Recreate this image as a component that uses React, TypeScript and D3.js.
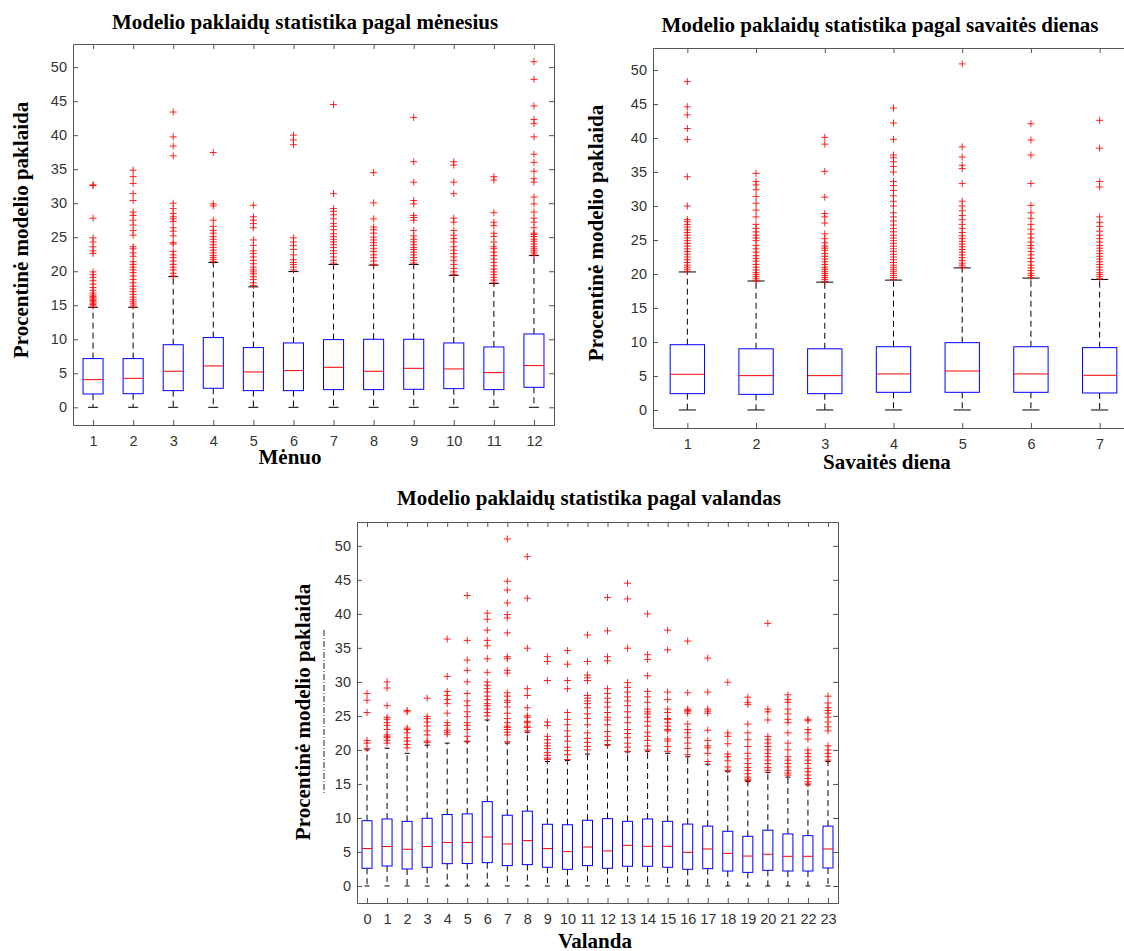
import React, { useEffect, useRef } from 'react';
import * as d3 from 'd3';

const yTicks = [0, 5, 10, 15, 20, 25, 30, 35, 40, 45, 50];

// --- month panel
const months = [1, 2, 3, 4, 5, 6, 7, 8, 9, 10, 11, 12];
const monthLow = [0, 0, 0, 0, 0, 0, 0, 0, 0, 0, 0, 0];
const monthQ1 = [1.96, 2.0, 2.45, 2.8, 2.45, 2.45, 2.6, 2.6, 2.65, 2.74, 2.6, 2.94];
const monthMedian = [4.07, 4.26, 5.3, 6.08, 5.2, 5.39, 5.88, 5.3, 5.73, 5.64, 5.1, 6.13];
const monthQ3 = [7.16, 7.16, 9.2, 10.25, 8.78, 9.46, 9.95, 10.0, 10.0, 9.46, 8.87, 10.78];
const monthHigh = [14.7, 14.7, 19.2, 21.3, 17.7, 19.95, 21.0, 20.9, 21.0, 19.4, 18.2, 22.3];
const monthOutliers = [
  [14.9, 15.1, 15.3, 15.5, 15.7, 15.9, 16.1, 16.3, 16.5, 16.8, 17.2, 17.6, 18.1, 18.6, 19.1, 19.5, 19.9, 22.6, 23.0, 23.6, 24.3, 24.9, 27.8, 32.6, 32.7],
  [14.9, 15.2, 15.5, 15.8, 16.2, 16.6, 17.0, 17.4, 17.8, 18.3, 18.8, 19.3, 19.8, 20.2, 20.6, 21.0, 21.4, 22.2, 22.7, 23.3, 23.6, 25.3, 26.0, 26.8, 27.5, 28.2, 28.7, 30.4, 31.4, 32.9, 33.9, 34.85],
  [19.3, 19.7, 20.2, 20.6, 21.0, 21.5, 22.0, 22.4, 22.9, 24.0, 24.2, 25.2, 25.9, 26.4, 27.3, 27.7, 28.0, 28.5, 29.2, 30.0, 36.96, 38.4, 39.75, 43.4],
  [21.4, 21.7, 22.0, 22.3, 22.7, 23.1, 23.5, 23.9, 24.3, 24.7, 25.1, 25.6, 26.0, 26.6, 27.5, 29.6, 29.9, 37.45],
  [17.9, 18.3, 18.8, 19.2, 19.6, 19.9, 20.2, 20.6, 21.1, 21.6, 22.1, 22.6, 23.0, 23.8, 24.6, 26.4, 27.0, 27.5, 28.0, 29.7],
  [20.2, 20.6, 21.0, 21.3, 21.7, 22.4, 23.2, 23.8, 24.3, 24.9, 38.6, 39.3, 40.0],
  [21.2, 21.6, 22.1, 22.6, 23.0, 23.5, 23.9, 24.3, 24.7, 25.1, 25.5, 26.1, 26.6, 27.0, 27.7, 28.3, 28.8, 29.2, 31.4, 44.5],
  [21.0, 21.5, 22.0, 22.4, 22.9, 23.3, 23.8, 24.2, 24.6, 25.0, 25.6, 26.1, 26.5, 27.7, 30.05, 34.5],
  [21.2, 21.6, 22.0, 22.4, 22.8, 23.2, 23.5, 23.9, 24.3, 24.7, 25.2, 26.0, 27.5, 27.9, 28.2, 29.9, 30.4, 33.1, 36.1, 42.6],
  [19.5, 19.9, 20.4, 21.0, 21.6, 22.1, 22.6, 23.1, 23.6, 24.3, 24.8, 25.3, 26.0, 27.2, 27.8, 31.4, 33.1, 35.6, 36.1],
  [18.3, 18.7, 19.1, 19.5, 19.9, 20.3, 20.8, 21.3, 21.8, 22.3, 22.8, 23.3, 23.6, 24.3, 25.1, 25.6, 26.7, 27.2, 28.6, 33.4, 33.9],
  [22.4, 22.7, 23.0, 23.3, 23.6, 24.0, 24.4, 24.7, 25.1, 25.4, 25.6, 26.4, 27.2, 27.8, 28.7, 29.9, 30.9, 33.1, 33.6, 34.7, 36.0, 37.2, 39.75, 41.7, 42.3, 44.3, 48.2, 50.8],
];

// --- weekday panel
const days = [1, 2, 3, 4, 5, 6, 7];
const dayLow = [0, 0, 0, 0, 0, 0, 0];
const dayQ1 = [2.4, 2.3, 2.4, 2.6, 2.6, 2.6, 2.5];
const dayMedian = [5.25, 5.05, 5.05, 5.3, 5.73, 5.3, 5.1];
const dayQ3 = [9.6, 9.0, 9.0, 9.3, 9.9, 9.3, 9.17];
const dayHigh = [20.3, 18.97, 18.8, 19.1, 20.9, 19.4, 19.2];
const dayOutliers = [
  [20.4, 20.7, 21.0, 21.3, 21.7, 22.1, 22.5, 22.9, 23.3, 23.7, 24.1, 24.5, 24.9, 25.3, 25.7, 26.1, 26.5, 26.9, 27.3, 27.7, 28.0, 30.0, 34.3, 39.8, 41.4, 43.4, 44.6, 48.3],
  [19.0, 19.3, 19.6, 19.9, 20.2, 20.6, 21.0, 21.4, 21.9, 22.3, 22.7, 23.2, 23.7, 24.2, 24.9, 25.3, 25.7, 26.2, 26.7, 27.3, 28.4, 29.4, 30.4, 31.4, 32.4, 33.1, 33.6, 34.8],
  [18.9, 19.2, 19.5, 19.8, 20.1, 20.4, 20.7, 21.0, 21.4, 21.8, 22.2, 22.6, 23.0, 23.5, 23.8, 24.1, 24.6, 25.2, 25.9, 27.5, 28.4, 28.9, 31.3, 35.1, 39.1, 40.1],
  [19.2, 19.5, 19.8, 20.1, 20.4, 20.7, 21.0, 21.3, 21.7, 22.1, 22.5, 22.9, 23.3, 23.7, 24.1, 24.5, 24.9, 25.3, 25.7, 26.2, 26.7, 27.2, 27.8, 28.4, 29.0, 30.0, 30.7, 31.5, 32.3, 33.0, 33.6, 35.0, 35.8, 36.5, 37.1, 37.5, 39.8, 42.2, 44.4],
  [21.0, 21.3, 21.6, 22.0, 22.4, 22.8, 23.2, 23.6, 24.0, 24.4, 24.8, 25.2, 25.6, 26.1, 26.7, 27.3, 28.0, 28.6, 29.3, 30.0, 30.7, 33.3, 35.5, 36.0, 37.2, 38.7, 50.9],
  [19.5, 19.8, 20.1, 20.5, 20.9, 21.3, 21.8, 22.3, 22.8, 23.3, 23.8, 24.2, 24.7, 25.3, 25.9, 26.6, 27.3, 28.2, 29.0, 30.1, 33.3, 37.5, 39.7, 42.1],
  [19.3, 19.6, 19.9, 20.2, 20.6, 21.0, 21.4, 21.8, 22.2, 22.6, 23.0, 23.4, 23.8, 24.2, 24.7, 25.2, 25.7, 26.3, 27.0, 27.6, 28.4, 32.8, 33.6, 38.5, 42.6],
];

// --- hour panel
const hours = [0, 1, 2, 3, 4, 5, 6, 7, 8, 9, 10, 11, 12, 13, 14, 15, 16, 17, 18, 19, 20, 21, 22, 23];
const hourLow = [0, 0, 0, 0, 0, 0, 0, 0, 0, 0, 0, 0, 0, 0, 0, 0, 0, 0, 0, 0, 0, 0, 0, 0];
const hourQ1 = [2.6, 2.94, 2.5, 2.75, 3.28, 3.3, 3.43, 3.0, 3.14, 2.75, 2.45, 3.0, 2.6, 2.9, 2.9, 2.75, 2.45, 2.55, 2.2, 2.0, 2.3, 2.2, 2.2, 2.65];
const hourMedian = [5.5, 5.8, 5.4, 5.8, 6.4, 6.4, 7.2, 6.18, 6.67, 5.5, 5.05, 5.73, 5.15, 5.98, 5.83, 5.83, 4.95, 5.44, 4.8, 4.4, 4.66, 4.36, 4.36, 5.44];
const hourQ3 = [9.6, 9.85, 9.5, 9.95, 10.5, 10.6, 12.4, 10.4, 11.0, 9.07, 9.0, 9.66, 9.9, 9.5, 9.85, 9.5, 9.1, 8.8, 8.04, 7.3, 8.2, 7.65, 7.4, 8.8];
const hourHigh = [20.0, 20.25, 19.5, 20.7, 21.0, 21.2, 24.4, 21.0, 22.6, 18.3, 18.45, 19.4, 20.7, 19.7, 19.8, 19.5, 19.0, 17.9, 16.8, 15.35, 16.7, 16.0, 14.85, 18.3];
const hourOutliers = [
  [20.2, 21.0, 21.4, 25.5, 27.3, 28.3],
  [21.0, 21.4, 21.8, 22.0, 22.2, 23.0, 23.6, 24.0, 24.5, 24.8, 26.5, 29.1, 30.0],
  [20.3, 20.8, 21.3, 21.8, 22.5, 23.0, 23.2, 25.6, 25.8],
  [21.1, 21.3, 22.2, 22.8, 23.5, 24.1, 24.6, 24.9, 27.6],
  [22.3, 22.6, 22.9, 23.6, 24.0, 25.4, 26.8, 27.4, 28.0, 28.6, 30.8, 36.3],
  [21.3, 22.0, 23.0, 23.6, 24.0, 24.9, 25.6, 26.5, 27.2, 28.3, 30.0, 31.7, 33.2, 36.1, 42.7],
  [25.0, 25.5, 26.0, 26.5, 26.8, 27.4, 27.9, 28.5, 29.0, 29.5, 30.0, 31.4, 33.4, 35.3, 36.1, 37.6, 39.2, 40.1],
  [21.2, 22.2, 22.6, 23.0, 23.3, 23.5, 24.0, 24.6, 25.4, 26.3, 27.0, 27.3, 27.9, 28.4, 31.3, 31.7, 33.4, 33.7, 37.2, 39.4, 39.9, 41.6, 43.5, 44.8, 51.0],
  [22.8, 23.3, 23.5, 24.0, 24.2, 24.8, 25.0, 26.2, 28.0, 29.0, 34.95, 42.3, 48.4],
  [18.6, 18.8, 19.2, 19.6, 20.2, 20.6, 21.0, 21.5, 22.0, 23.6, 24.1, 30.2, 33.0, 33.7],
  [18.6, 19.3, 19.9, 20.4, 21.3, 22.0, 22.8, 23.7, 24.5, 25.5, 29.0, 30.2, 32.6, 34.6],
  [20.0, 20.5, 21.1, 21.7, 22.5, 23.7, 24.6, 25.3, 26.2, 26.8, 27.2, 27.6, 28.0, 30.2, 30.6, 31.0, 33.0, 36.9],
  [20.8, 21.4, 22.0, 22.7, 23.7, 24.4, 24.8, 25.5, 26.3, 27.0, 27.6, 28.3, 29.0, 33.1, 33.7, 37.5, 42.4],
  [19.8, 20.4, 21.0, 21.8, 22.4, 23.0, 24.0, 24.8, 25.6, 26.5, 27.2, 27.8, 28.5, 29.2, 29.9, 34.95, 42.2, 44.5],
  [20.0, 20.6, 21.4, 22.0, 22.6, 23.5, 24.2, 24.8, 25.3, 25.6, 26.0, 27.0, 27.8, 28.6, 30.9, 33.3, 34.0, 40.0],
  [19.8, 20.5, 21.3, 21.6, 22.8, 23.0, 23.5, 24.0, 24.5, 24.6, 25.5, 26.0, 27.4, 28.5, 34.7, 37.6],
  [19.3, 20.2, 21.0, 21.8, 22.5, 23.0, 23.8, 25.4, 25.7, 25.8, 26.0, 28.4, 36.0],
  [18.3, 19.5, 20.3, 20.6, 21.4, 22.9, 25.4, 25.7, 26.0, 28.5, 33.5],
  [17.0, 17.5, 18.4, 19.0, 19.4, 20.9, 22.0, 22.5, 29.95],
  [15.5, 15.7, 16.0, 16.5, 17.0, 17.4, 18.0, 18.7, 19.5, 20.5, 21.5, 22.5, 23.8, 26.7, 27.0, 27.75],
  [17.0, 17.4, 18.0, 18.5, 19.0, 19.5, 20.0, 20.5, 21.0, 21.5, 22.0, 24.4, 25.6, 26.0, 38.6],
  [16.3, 16.6, 17.0, 17.5, 18.0, 18.5, 19.0, 20.0, 21.0, 22.5, 24.0, 24.5, 25.3, 26.0, 27.0, 27.4, 28.1],
  [15.0, 15.3, 15.8, 16.3, 16.8, 17.3, 18.0, 18.5, 19.0, 19.5, 20.0, 21.6, 22.5, 23.0, 24.3, 24.5],
  [18.5, 19.0, 19.5, 20.0, 20.6, 22.8, 23.4, 24.1, 24.8, 25.4, 25.8, 26.2, 26.9, 27.9],
];

const yLabel = 'Procentinė modelio paklaida';
const serif = "'Liberation Serif', 'Times New Roman', serif";
const sans = "'Liberation Sans', Arial, Helvetica, sans-serif";
const axisColor = '#555';

function drawPanel(svg, p) {
  const x = d3.scaleLinear().domain(p.xDomain).range([p.left, p.right]);
  const y = d3.scaleLinear().domain(p.yDomain).range([p.bottom, p.top]);
  const halfBox = (x(1) - x(0)) * 0.25;
  const halfCap = halfBox / 2;
  const g = svg.append('g');
  const idx = p.cats.map((_, i) => i);

  // whiskers
  g.selectAll('line.wu').data(idx).enter().append('line')
    .attr('x1', i => x(p.cats[i])).attr('x2', i => x(p.cats[i]))
    .attr('y1', i => y(p.q3[i])).attr('y2', i => y(p.high[i]))
    .attr('stroke', '#000').attr('stroke-dasharray', '6,4');
  g.selectAll('line.wl').data(idx).enter().append('line')
    .attr('x1', i => x(p.cats[i])).attr('x2', i => x(p.cats[i]))
    .attr('y1', i => y(p.q1[i])).attr('y2', i => y(p.low[i]))
    .attr('stroke', '#000').attr('stroke-dasharray', '6,4');
  // caps
  ['high', 'low'].forEach(k => {
    g.selectAll('line.c' + k).data(idx).enter().append('line')
      .attr('x1', i => x(p.cats[i]) - halfCap).attr('x2', i => x(p.cats[i]) + halfCap)
      .attr('y1', i => y(p[k][i])).attr('y2', i => y(p[k][i]))
      .attr('stroke', '#000');
  });
  // boxes
  g.selectAll('rect.box').data(idx).enter().append('rect')
    .attr('x', i => x(p.cats[i]) - halfBox).attr('width', halfBox * 2)
    .attr('y', i => y(p.q3[i])).attr('height', i => y(p.q1[i]) - y(p.q3[i]))
    .attr('fill', 'none').attr('stroke', '#0000ff');
  g.selectAll('line.med').data(idx).enter().append('line')
    .attr('x1', i => x(p.cats[i]) - halfBox).attr('x2', i => x(p.cats[i]) + halfBox)
    .attr('y1', i => y(p.median[i])).attr('y2', i => y(p.median[i]))
    .attr('stroke', '#ff0000');
  // outliers
  const pts = [];
  p.outliers.forEach((arr, i) => arr.forEach(v => pts.push([p.cats[i], v])));
  g.selectAll('path.out').data(pts).enter().append('path')
    .attr('d', d => `M${x(d[0]) - 3.5},${y(d[1])}H${x(d[0]) + 3.5}M${x(d[0])},${y(d[1]) - 3.5}V${y(d[1]) + 3.5}`)
    .attr('stroke', '#ff0000').attr('stroke-opacity', 0.85).attr('fill', 'none');

  // axes
  const style = sel => {
    sel.select('.domain').attr('stroke', axisColor);
    sel.selectAll('.tick line').attr('stroke', axisColor);
    sel.selectAll('text').attr('fill', '#333').attr('font-size', 14.5).attr('font-family', sans);
  };
  svg.append('g').attr('transform', `translate(0,${p.bottom})`)
    .call(d3.axisBottom(x).tickValues(p.cats).tickSize(-5).tickSizeOuter(0).tickPadding(11).tickFormat(d3.format('d')))
    .call(style);
  svg.append('g').attr('transform', `translate(0,${p.top})`)
    .call(d3.axisTop(x).tickValues(p.cats).tickSize(-5).tickSizeOuter(0).tickFormat(() => ''))
    .call(style);
  svg.append('g').attr('transform', `translate(${p.left},0)`)
    .call(d3.axisLeft(y).tickValues(yTicks).tickSize(-5).tickSizeOuter(0).tickPadding(6))
    .call(style);
  svg.append('g').attr('transform', `translate(${p.right},0)`)
    .call(d3.axisRight(y).tickValues(yTicks).tickSize(-5).tickSizeOuter(0).tickFormat(() => ''))
    .call(style);

  // texts
  svg.append('text').attr('x', p.titleX).attr('y', p.titleY).attr('text-anchor', 'middle')
    .attr('font-family', serif).attr('font-weight', 'bold').attr('font-size', 21).attr('fill', '#000')
    .text(p.title);
  svg.append('text').attr('x', p.xLabelX).attr('y', p.xLabelY).attr('text-anchor', 'middle')
    .attr('font-family', serif).attr('font-weight', 'bold').attr('font-size', 21).attr('fill', '#000')
    .text(p.xLabel);
  svg.append('text').attr('transform', `translate(${p.yLabelX},${p.yLabelY}) rotate(-90)`).attr('text-anchor', 'middle')
    .attr('font-family', serif).attr('font-weight', 'bold').attr('font-size', 21).attr('fill', '#000')
    .text(yLabel);
}

export default function App() {
  const ref = useRef(null);

  useEffect(() => {
    const svg = d3.select(ref.current);
    svg.selectAll('*').remove();

    drawPanel(svg, {
      cats: months, low: monthLow, q1: monthQ1, median: monthMedian, q3: monthQ3, high: monthHigh, outliers: monthOutliers,
      left: 73, right: 554, top: 44, bottom: 425, xDomain: [0.5, 12.5], yDomain: [-2.6, 53.4],
      title: 'Modelio paklaidų statistika pagal mėnesius', titleX: 305, titleY: 29,
      xLabel: 'Mėnuo', xLabelX: 290, xLabelY: 464, yLabelX: 28, yLabelY: 230,
    });

    // faint leftover label behind the weekday y title
    const defs = svg.append('defs');
    defs.append('clipPath').attr('id', 'ghost-clip').append('rect')
      .attr('x', 613).attr('y', 0).attr('width', 20).attr('height', 480);
    svg.append('text').attr('clip-path', 'url(#ghost-clip)')
      .attr('transform', 'translate(621,237) rotate(-90)').attr('text-anchor', 'middle')
      .attr('font-family', sans).attr('font-size', 14).attr('fill', '#aaa')
      .text('Percent Error Statistics');

    drawPanel(svg, {
      cats: days, low: dayLow, q1: dayQ1, median: dayMedian, q3: dayQ3, high: dayHigh, outliers: dayOutliers,
      left: 653, right: 1134, top: 48, bottom: 428, xDomain: [0.5, 7.5], yDomain: [-2.65, 53.24],
      title: 'Modelio paklaidų statistika pagal savaitės dienas', titleX: 880, titleY: 32,
      xLabel: 'Savaitės diena', xLabelX: 887, xLabelY: 469, yLabelX: 603, yLabelY: 233,
    });

    drawPanel(svg, {
      cats: hours, low: hourLow, q1: hourQ1, median: hourMedian, q3: hourQ3, high: hourHigh, outliers: hourOutliers,
      left: 357, right: 838, top: 522, bottom: 903, xDomain: [-0.5, 23.5], yDomain: [-2.5, 53.5],
      title: 'Modelio paklaidų statistika pagal valandas', titleX: 589, titleY: 505,
      xLabel: 'Valanda', xLabelX: 595, xLabelY: 948, yLabelX: 310, yLabelY: 712,
    });

    // stray dash-dot mark left of the hour panel
    svg.append('line').attr('x1', 324).attr('x2', 324).attr('y1', 630).attr('y2', 794)
      .attr('stroke', '#222').attr('stroke-dasharray', '6,2,1,2');
  }, []);

  return (
    <svg ref={ref} width="1124" height="951"
      style={{ position: 'absolute', left: 0, top: 0, background: '#fff' }}></svg>
  );
}
